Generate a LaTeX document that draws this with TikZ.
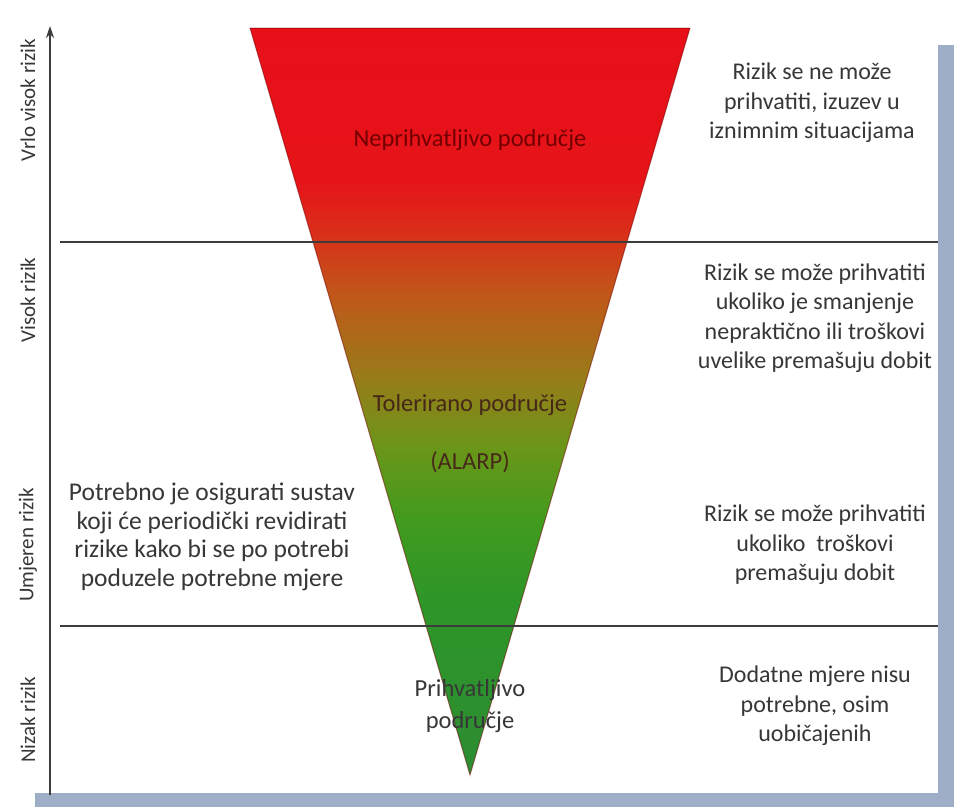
\documentclass[tikz,border=0pt]{standalone}
\usepackage{fontspec}
\setmainfont{Carlito}
\usetikzlibrary{arrows.meta}
\definecolor{gA}{RGB}{45,140,50}
\definecolor{gB}{RGB}{45,150,40}
\definecolor{gC}{RGB}{65,155,30}
\definecolor{gD}{RGB}{105,150,25}
\definecolor{oA}{RGB}{150,125,25}
\definecolor{oB}{RGB}{190,90,25}
\definecolor{rA}{RGB}{218,45,25}
\definecolor{rB}{RGB}{230,20,25}
\definecolor{rC}{RGB}{232,15,25}
\definecolor{txtgray}{RGB}{55,55,55}
\definecolor{txtdark}{RGB}{70,40,25}
\definecolor{shadowc}{RGB}{158,174,198}
\definecolor{linec}{RGB}{60,60,60}
\pgfdeclareverticalshading{riskshade}{100bp}{%
 color(0bp)=(gA); color(25bp)=(gA); color(36.7bp)=(gB); color(42.1bp)=(gC);
 color(46.8bp)=(gD); color(51.4bp)=(oA); color(56.8bp)=(oB); color(61.5bp)=(rA);
 color(64.8bp)=(rB); color(75bp)=(rC); color(100bp)=(rC)}
\tikzset{
  rtxt/.style={font=\fontsize{24}{29.5}\selectfont, align=center, text=txtgray, inner sep=0pt},
  ltxt/.style={font=\fontsize{25.5}{28.5}\selectfont, align=center, text=txtgray, inner sep=0pt},
  ctxt/.style={font=\fontsize{24.5}{32}\selectfont, align=center, text=txtdark, inner sep=0pt},
  axlbl/.style={font=\fontsize{21}{25}\selectfont, text=txtgray, rotate=90, inner sep=0pt},
  sepline/.style={draw=linec, line width=1.4pt},
  axisline/.style={draw=linec, line width=1.6pt, -{Stealth[length=12pt,width=8pt]}},
}
\begin{document}
\begin{tikzpicture}[x=1pt,y=-1pt]
\useasboundingbox (0,0) rectangle (954,807);
\fill[white] (0,0) rectangle (954,807);
% shadow bands
\fill[shadowc] (938,45) rectangle (954,807);
\fill[shadowc] (35,793) rectangle (954,807);
% triangle
\path[shading=riskshade, draw=black!55!red, draw opacity=0.5, line width=1pt]
  (250,28) -- (690,28) -- (470,775) -- cycle;
% separator lines
\coordinate (l1a) at (60,242); \coordinate (l1b) at (938,242);
\coordinate (l2a) at (60,626); \coordinate (l2b) at (938,626);
\draw[sepline] (l1a) -- (l1b);
\draw[sepline] (l2a) -- (l2b);
% axis
\coordinate (ax0) at (50,795); \coordinate (ax1) at (50,26);
\draw[axisline] (ax0) -- (ax1);
% axis labels
\node[axlbl] (a1) at (28,100) {Vrlo visok rizik};
\node[axlbl] (a2) at (28,300) {Visok rizik};
\node[axlbl] (a3) at (28,545) {Umjeren rizik};
\node[axlbl] (a4) at (28,720) {Nizak rizik};
% centre labels
\node[ctxt, text=black!55!red] (z1) at (470,140) {Neprihvatljivo područje};
\node[ctxt] (z2) at (470,405) {Tolerirano područje};
\node[ctxt] (z3) at (470,462) {(ALARP)};
\node[ctxt, text=txtgray] (z4) at (470,706) {Prihvatljivo\\područje};
% right texts
\node[rtxt] (r1) at (812,103) {Rizik se ne može\\prihvatiti, izuzev u\\iznimnim situacijama};
\node[rtxt] (r2) at (815,318) {Rizik se može prihvatiti\\ukoliko je smanjenje\\nepraktično ili troškovi\\uvelike premašuju dobit};
\node[rtxt] (r3) at (815,545) {Rizik se može prihvatiti\\ukoliko\ \ troškovi\\premašuju dobit};
\node[rtxt] (r4) at (815,706) {Dodatne mjere nisu\\potrebne, osim\\uobičajenih};
% left text
\node[ltxt] (lt) at (212,537) {Potrebno je osigurati sustav\\koji će periodički revidirati\\rizike kako bi se po potrebi\\poduzele potrebne mjere};
\end{tikzpicture}
\end{document}
